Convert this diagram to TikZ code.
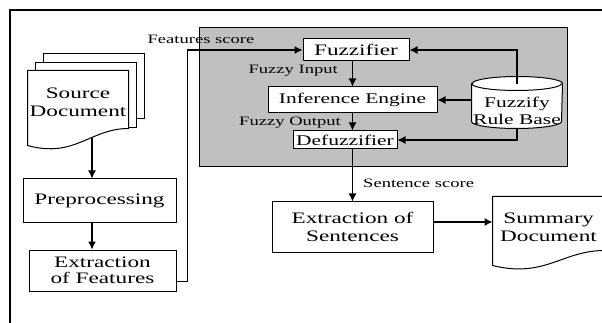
\documentclass[tikz,border=0pt]{standalone}
\usepackage{fontspec}
\setmainfont{Liberation Serif}[FakeStretch=1.45]
\usepackage{tikz}
\usetikzlibrary{arrows.meta,backgrounds,calc,positioning}
\definecolor{panel}{HTML}{C0C0C0}
\tikzset{%
  arrow/.style={line width=1.2pt,-{Latex[length=8pt,width=8pt]}},
  box/.style={rectangle,draw,line width=1pt,fill=white,inner sep=0pt,
    align=center,font=\fontsize{16}{18.5}\selectfont},
  smallbox/.style={font=\fontsize{14.8}{17.5}\selectfont},
  lbl/.style={inner sep=0pt,font=\fontsize{12.8}{15}\selectfont},
}

\begin{document}
\begin{tikzpicture}[x=1pt,y=-1pt,
    page/.style={draw,line width=1pt,fill=white},
    ghost/.style={box,draw=none,fill=none}]
  \useasboundingbox (0,0) rectangle (602,323);

  % frame
  \draw[line width=1.2pt] (602,10) -- (10,10) -- (10,323);

  % input side
  \node[ghost,minimum width=100pt,minimum height=63pt] (src) at (78,102.5) {Source\\Document};
  \node[box,minimum width=153pt,minimum height=43pt] (pre) at (99.5,200.5) {Preprocessing};
  \node[box,minimum width=147pt,minimum height=41pt,font=\fontsize{16}{16}\selectfont] (fe) at (102.5,270.5) {Extraction\\of Features};
  \coordinate (spine) at (92,0);

  % fuzzy system
  \node[box,minimum width=106pt,minimum height=22pt] (fz) at (356,50) {Fuzzifier};
  \node[box,smallbox,minimum width=169pt,minimum height=26pt] (ie) at (352.5,100) {Inference Engine};
  \node[box,smallbox,minimum width=104pt,minimum height=18pt] (dz) at (345,140) {Defuzzifier};
  \node[ghost,smallbox,minimum width=90pt,minimum height=34pt] (rb) at (517,111) {Fuzzify\\Rule Base};

  % output side
  \node[box,minimum width=161pt,minimum height=50pt] (es) at (352.5,227) {Extraction of\\Sentences};
  \node[ghost,minimum width=111pt,minimum height=61pt] (sd) at (548.5,227.5) {Summary\\Document};

  \begin{pgfonlayer}{background}
    \filldraw[fill=panel,line width=1pt] (199,28) rectangle (567,167);
    \draw[page] ($(src.north west)+(16,-17)$) rectangle ($(src.south east)+(16,-16)$);
    \draw[page] ($(src.north west)+(8,-8)$) rectangle ($(src.south east)+(8,-7)$);
    \foreach \doc/\rise/\drop in {src/6/11,sd/8/7}
      \draw[page] (\doc.north west) -- (\doc.north east) -- ($(\doc.south east)+(0,-\rise)$)
        .. controls ($(\doc.south west)!0.62!(\doc.south east)+(0,-\rise)$)
        and ($(\doc.south west)!0.47!(\doc.south east)+(0,\drop+13)$)
        .. ($(\doc.south west)+(0,\drop)$) -- cycle;
    \draw[page] ($(rb.north west)+(0,-10)$) -- ($(rb.south west)+(0,-7)$)
      arc[start angle=180,end angle=0,x radius=45,y radius=7]
      -- ($(rb.north east)+(0,-10)$)
      arc[start angle=0,end angle=-180,x radius=45,y radius=7] -- cycle;
    \draw[line width=1pt] ($(rb.north west)+(0,-10)$)
      arc[start angle=180,end angle=0,x radius=45,y radius=7];
  \end{pgfonlayer}

  % connectors
  \draw[arrow] ($(spine |- src.south)+(0,3.5)$) -- (spine |- pre.north);
  \draw[arrow] (spine |- pre.south) -- (spine |- fe.north);
  \draw[arrow] ($(fe.south east)+(0,-10)$) -- ++(11,0) |- (fz.west);
  \draw[arrow] (ie.north |- fz.south) -- (ie.north);
  \draw[arrow] (ie.south) -- (ie.south |- dz.north);
  \draw[arrow] ($(rb.north)+(0,-9)$) |- (fz.east);
  \draw[arrow] (rb.west |- ie.east) -- (ie.east);
  \draw[arrow] (rb.south) |- (dz.east);
  \draw[arrow] (es.north |- dz.south) -- (es.north);
  \draw[arrow] ($(es.east)+(0,-5)$) -- ($(sd.west)+(0,-5.5)$);

  % labels
  \node[lbl] (lfs) at (201,39) {Features score};
  \node[lbl,anchor=east] (lfi) at (338,71) {Fuzzy Input};
  \node[lbl,anchor=east] (lfo) at (341,123) {Fuzzy Output};
  \node[lbl,anchor=west] (lss) at (363,183) {Sentence score};
\end{tikzpicture}
\end{document}
